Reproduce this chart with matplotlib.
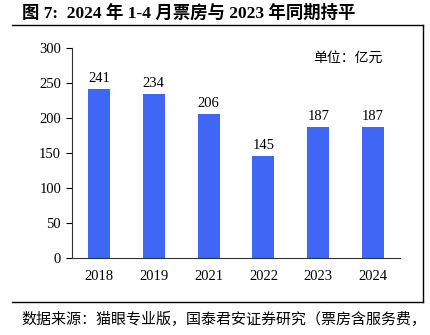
import matplotlib.pyplot as plt
from matplotlib.lines import Line2D

plt.rcParams['font.family'] = ['Liberation Serif', 'Noto Sans CJK SC']

years = ['2018', '2019', '2021', '2022', '2023', '2024']
box_office = [241, 234, 206, 145, 187, 187]
yticks = [0, 50, 100, 150, 200, 250, 300]

fig = plt.figure(figsize=(4.31, 3.35), dpi=100)
ax = fig.add_axes([0.166, 0.230, 0.763, 0.627])

x = range(len(years))
bars = ax.bar(x, box_office, width=0.4, color='#3F66F5')
for xi, v in zip(x, box_office):
    ax.text(xi, v + 6, str(v), ha='center', va='bottom', fontsize=10.5)

ax.set_xlim(-0.5, len(years) - 0.5)
ax.set_ylim(0, 300)
ax.set_yticks(yticks)
ax.set_xticks(list(x))
ax.set_xticklabels(years)
ax.tick_params(axis='y', direction='out', length=4, labelsize=10.5)
ax.tick_params(axis='x', length=0, labelsize=10.5, pad=9)
for s in ['top', 'right']:
    ax.spines[s].set_visible(False)
ax.spines['left'].set_color('#333333')
ax.spines['bottom'].set_color('#333333')

ax.text(0.945, 0.955, '单位：亿元', transform=ax.transAxes, ha='right', va='center',
        fontsize=10, family=['Noto Sans CJK SC'])

fig.text(0.05, 0.962, '图 7:  2024 年 1-4 月票房与 2023 年同期持平', fontsize=12.5,
         fontweight='bold', va='center', ha='left')

# frame lines
fig.add_artist(Line2D([0.028, 0.982], [0.925, 0.925], color='black', lw=1))
fig.add_artist(Line2D([0.982, 0.982], [0.925, 0.1], color='black', lw=1))
fig.add_artist(Line2D([0.028, 0.982], [0.1, 0.1], color='black', lw=1))

fig.text(0.05, 0.05, '数据来源：猫眼专业版，国泰君安证券研究（票房含服务费，', fontsize=10.8,
         va='center', ha='left', family=['Noto Sans CJK SC'])

fig.savefig('out.png', dpi=100)
